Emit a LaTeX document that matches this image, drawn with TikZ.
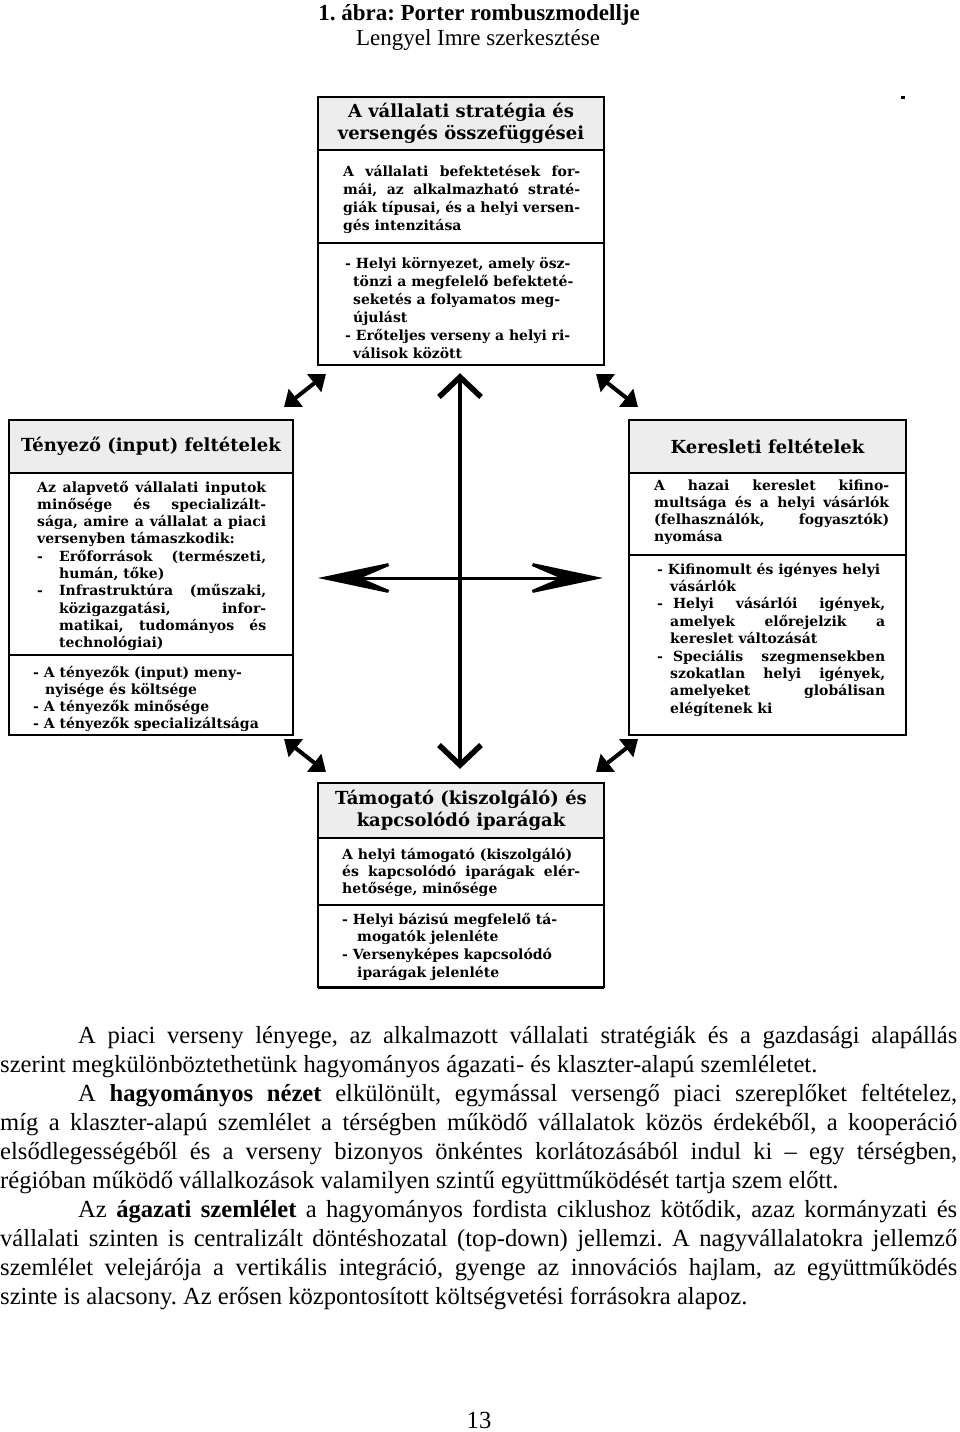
\documentclass[tikz,border=0pt]{standalone}
\usepackage{fontspec}
\setmainfont{Liberation Serif}
\newfontfamily\boxfont{DejaVu Serif}
\usetikzlibrary{arrows.meta}
\definecolor{headgray}{HTML}{EDEDED}
\frenchspacing
\tikzset{
  frame/.style={draw=black, line width=1.3pt, fill=white, anchor=north west, inner sep=0pt, outer sep=0pt},
  headbox/.style={frame, fill=headgray, align=center, font=\boxfont\bfseries\fontsize{18}{22}\selectfont},
  bodytxt/.style={anchor=base west, inner sep=0pt, align=justify, text width=260pt, font=\boxfont\bfseries\fontsize{14}{#1}\selectfont},
  mainv/.style={line width=4pt},
  vbarb/.style={line width=5.5pt, line join=miter},
  mainh/.style={line width=3pt, {Stealth[length=85pt,width=36pt,inset=42pt]}-{Stealth[length=85pt,width=36pt,inset=42pt]}},
  cornerarrow/.style={line width=4pt, {Triangle[length=15pt,width=22pt]}-{Triangle[length=15pt,width=22pt]}}
}
\begin{document}
\begin{tikzpicture}[x=1pt,y=-1pt]
\useasboundingbox (0,0) rectangle (960,1432);
\fill[white] (0,0) rectangle (960,1432);

% title
\node[anchor=base, inner sep=0, font=\bfseries\fontsize{23}{27}\selectfont] (title) at (479,20) {1. ábra: Porter rombuszmodellje};
\node[anchor=base, inner sep=0, font=\fontsize{23}{27}\selectfont] (subtitle) at (478,45) {Lengyel Imre szerkesztése};
\fill (901,96) rectangle (905,98.5);

% top box
\node[headbox, minimum width=286pt, minimum height=53pt] (tophead) at (318,97) {A vállalati stratégia és\\versengés összefüggései};
\node[frame, minimum width=286pt, minimum height=93pt] (topmid) at (318,150) {};
\node[frame, minimum width=286pt, minimum height=122pt] (topbot) at (318,243) {};
\node[bodytxt=18pt] (topmidtxt) at (343,176) {\makebox[237pt][s]{A vállalati befektetések for-}\\\makebox[237pt][s]{mái, az alkalmazható straté-}\\\makebox[237pt][s]{giák típusai, és a helyi versen-}\\gés intenzitása};
\node[bodytxt=18pt] (topbottxt) at (345,268) {- Helyi környezet, amely ösz-\\\hspace*{8pt}tönzi a megfelelő befekteté-\\\hspace*{8pt}seketés a folyamatos meg-\\\hspace*{8pt}újulást\\- Erőteljes verseny a helyi ri-\\\hspace*{8pt}válisok között};

% left box
\node[headbox, minimum width=284pt, minimum height=53pt] (lefthead) at (9,420) {Tényező (input) feltételek};
\node[frame, minimum width=284pt, minimum height=182pt] (leftmid) at (9,473) {};
\node[frame, minimum width=284pt, minimum height=80pt] (leftbot) at (9,655) {};
\node[bodytxt=17.3pt] (leftmidtxt) at (37,492) {\makebox[229pt][s]{Az alapvető vállalati inputok}\\\makebox[229pt][s]{minősége és specializált-}\\\makebox[229pt][s]{sága, amire a vállalat a piaci}\\versenyben támaszkodik:\\\makebox[22pt][l]{-}\makebox[207pt][s]{Erőforrások (természeti,}\\\hspace*{22pt}humán, tőke)\\\makebox[22pt][l]{-}\makebox[207pt][s]{Infrastruktúra (műszaki,}\\\hspace*{22pt}\makebox[207pt][s]{közigazgatási, infor-}\\\hspace*{22pt}\makebox[207pt][s]{matikai, tudományos és}\\\hspace*{22pt}technológiai)};
\node[bodytxt=17pt] (leftbottxt) at (33,677) {- A tényezők (input) meny-\\\hspace*{12pt}nyisége és költsége\\- A tényezők minősége\\- A tényezők specializáltsága};

% right box
\node[headbox, minimum width=277pt, minimum height=53pt] (righthead) at (629,420) {Keresleti feltételek};
\node[frame, minimum width=277pt, minimum height=82pt] (rightmid) at (629,473) {};
\node[frame, minimum width=277pt, minimum height=180pt] (rightbot) at (629,555) {};
\node[bodytxt=17pt] (rightmidtxt) at (654,490) {\makebox[235pt][s]{A hazai kereslet kifino-}\\\makebox[235pt][s]{multsága és a helyi vásárlók}\\\makebox[235pt][s]{(felhasználók, fogyasztók)}\\nyomása};
\node[bodytxt=17.4pt] (rightbottxt) at (657,574) {- Kifinomult és igényes helyi\\\hspace*{13pt}vásárlók\\\makebox[228pt][s]{-\hspace{10pt}Helyi vásárlói igények,}\\\hspace*{13pt}\makebox[215pt][s]{amelyek előrejelzik a}\\\hspace*{13pt}kereslet változását\\\makebox[228pt][s]{-\hspace{10pt}Speciális szegmensekben}\\\hspace*{13pt}\makebox[215pt][s]{szokatlan helyi igények,}\\\hspace*{13pt}\makebox[215pt][s]{amelyeket globálisan}\\\hspace*{13pt}elégítenek ki};

% bottom box
\node[headbox, minimum width=286pt, minimum height=55pt] (bothead) at (318,783) {Támogató (kiszolgáló) és\\kapcsolódó iparágak};
\node[frame, minimum width=286pt, minimum height=67pt] (botmid) at (318,838) {};
\node[frame, minimum width=286pt, minimum height=82pt] (botbot) at (318,905) {};
\draw[line width=3pt] (botbot.south west) -- (botbot.south east);
\node[bodytxt=17pt] (botmidtxt) at (342,859) {A helyi támogató (kiszolgáló)\\\makebox[238pt][s]{és kapcsolódó iparágak elér-}\\hetősége, minősége};
\node[bodytxt=17.7pt] (botbottxt) at (342,924) {- Helyi bázisú megfelelő tá-\\\hspace*{15pt}mogatók jelenléte\\- Versenyképes kapcsolódó\\\hspace*{15pt}iparágak jelenléte};

% main arrows
\coordinate (vT) at (460,377);
\coordinate (vB) at (460,765);
\coordinate (hL) at (318,578);
\coordinate (hR) at (603,578);
\draw[mainv] (vT) -- (vB);
\draw[vbarb] ([shift={(-21,20)}]vT) -- (vT) -- ([shift={(21,20)}]vT);
\draw[vbarb] ([shift={(-21,-20)}]vB) -- (vB) -- ([shift={(21,-20)}]vB);
\draw[mainh] (hL) -- (hR);

% corner arrows
\coordinate (tlA) at (284,407); \coordinate (tlB) at (326,374);
\coordinate (trA) at (596,374); \coordinate (trB) at (638,407);
\coordinate (blA) at (284,739); \coordinate (blB) at (326,772);
\coordinate (brA) at (638,739); \coordinate (brB) at (596,772);
\draw[cornerarrow] (tlA) -- (tlB);
\draw[cornerarrow] (trA) -- (trB);
\draw[cornerarrow] (blA) -- (blB);
\draw[cornerarrow] (brA) -- (brB);

% body text
\node[anchor=base west, inner sep=0pt, text width=957pt, align=justify, font=\fontsize{24.6}{29}\selectfont] (para) at (0,1043) {%
\hspace*{78pt}\makebox[879pt][s]{A piaci verseny lényege, az alkalmazott vállalati stratégiák és a gazdasági alapállás}\\
szerint megkülönböztethetünk hagyományos ágazati- és klaszter-alapú szemléletet.\\
\hspace*{78pt}\makebox[879pt][s]{A \textbf{hagyományos nézet} elkülönült, egymással versengő piaci szereplőket feltételez,}\\
\makebox[957pt][s]{míg a klaszter-alapú szemlélet a térségben működő vállalatok közös érdekéből, a kooperáció}\\
\makebox[957pt][s]{elsődlegességéből és a verseny bizonyos önkéntes korlátozásából indul ki – egy térségben,}\\
régióban működő vállalkozások valamilyen szintű együttműködését tartja szem előtt.\\
\hspace*{78pt}\makebox[879pt][s]{Az \textbf{ágazati szemlélet} a hagyományos fordista ciklushoz kötődik, azaz kormányzati és}\\
\makebox[957pt][s]{vállalati szinten is centralizált döntéshozatal (top-down) jellemzi. A nagyvállalatokra jellemző}\\
\makebox[957pt][s]{szemlélet velejárója a vertikális integráció, gyenge az innovációs hajlam, az együttműködés}\\
szinte is alacsony. Az erősen központosított költségvetési forrásokra alapoz.};

\node[anchor=base, inner sep=0, font=\fontsize{24.6}{29}\selectfont] (pagenum) at (479,1428) {13};
\end{tikzpicture}
\end{document}
